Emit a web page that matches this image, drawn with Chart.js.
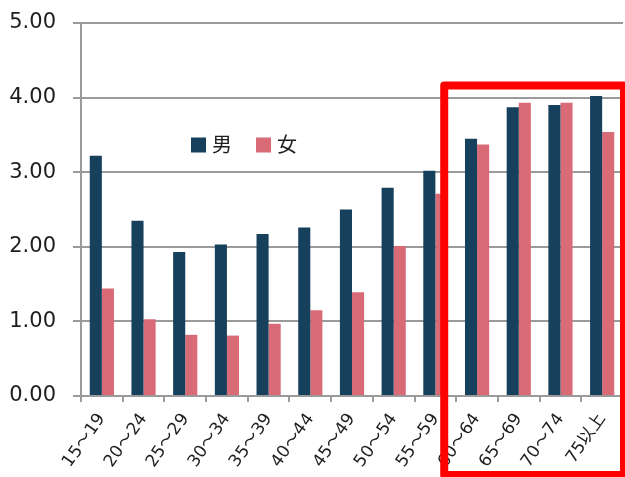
<!DOCTYPE html>
<html lang="ja">
<head>
<meta charset="utf-8">
<title>年齢階級別 男女比較</title>
<script src="https://cdn.jsdelivr.net/npm/chart.js@4.4.1/dist/chart.umd.min.js"></script>
<style>
  /* Latin digits from DejaVu Sans, wave dash and kanji from Noto Sans CJK JP */
  @font-face { font-family: 'AxisLabel'; src: local('DejaVu Sans'), local('DejaVuSans'); unicode-range: U+0000-024F; }
  @font-face { font-family: 'AxisLabel'; src: local('Noto Sans CJK JP'), local('Noto Sans CJK JP Regular'), local('NotoSansCJKjp-Regular'); unicode-range: U+3000-9FFF, U+FF00-FFEF; }
  html, body { margin: 0; padding: 0; background: #ffffff; }
  #wrap { width: 625px; height: 477px; }
</style>
</head>
<body>
<div id="wrap"><canvas id="chart" width="625" height="477"></canvas></div>
<script>
// Age groups along the category axis
const categories = ['15〜19', '20〜24', '25〜29', '30〜34', '35〜39', '40〜44', '45〜49',
                    '50〜54', '55〜59', '60〜64', '65〜69', '70〜74', '75以上'];
// Values per age group
const maleValues   = [3.22, 2.35, 1.93, 2.03, 2.17, 2.26, 2.50, 2.79, 3.02, 3.45, 3.87, 3.90, 4.02];
const femaleValues = [1.44, 1.03, 0.82, 0.81, 0.97, 1.15, 1.39, 2.01, 2.71, 3.37, 3.93, 3.93, 3.54];
const seriesLabels = ['男', '女'];
// Value axis range and step
const yMin = 0, yMax = 5, yStep = 1;
// First category inside the highlighted group
const highlightFrom = '60〜64';

const MALE_COLOR = '#17405C';
const FEMALE_COLOR = '#D96B77';
const GRID_COLOR = '#9a9a9a';
const TEXT_COLOR = '#1e1e1e';
const LABEL_FONT = 'AxisLabel, "DejaVu Sans", "Noto Sans CJK JP", sans-serif';

// Legend drawn inside the plot area
const inlineLegend = {
  id: 'inlineLegend',
  afterDatasetsDraw(chart) {
    const { ctx, chartArea } = chart;
    const box = 15;
    let x = chartArea.left + 110;
    const cy = chartArea.top + 122;
    ctx.save();
    ctx.font = '20px "Noto Sans CJK JP", "DejaVu Sans", sans-serif';
    ctx.textBaseline = 'middle';
    ctx.textAlign = 'left';
    chart.data.datasets.forEach((ds) => {
      ctx.fillStyle = ds.backgroundColor;
      ctx.fillRect(x, cy - box / 2, box, box);
      ctx.fillStyle = TEXT_COLOR;
      ctx.fillText(ds.label, x + box + 6, cy - 1);
      x += 65;
    });
    ctx.restore();
  }
};

// Red frame around the older age groups
const highlightFrame = {
  id: 'highlightFrame',
  afterDraw(chart) {
    const { ctx } = chart;
    const xs = chart.scales.x;
    const ys = chart.scales.y;
    const idx = categories.indexOf(highlightFrom);
    const boundary = (xs.getPixelForValue(idx - 1) + xs.getPixelForValue(idx)) / 2;
    const left = boundary - 12;
    const top = ys.getPixelForValue(4) - 12;
    const right = chart.width - 1;
    const bottom = chart.height - 2;
    ctx.save();
    ctx.strokeStyle = '#FF0000';
    ctx.lineWidth = 8;
    ctx.lineJoin = 'round';
    ctx.strokeRect(left, top, right - left, bottom - top);
    ctx.restore();
  }
};

function draw() {
  new Chart(document.getElementById('chart'), {
    type: 'bar',
    data: {
      labels: categories,
      datasets: [
        { label: seriesLabels[0], data: maleValues, backgroundColor: MALE_COLOR,
          categoryPercentage: 0.58, barPercentage: 1.0 },
        { label: seriesLabels[1], data: femaleValues, backgroundColor: FEMALE_COLOR,
          categoryPercentage: 0.58, barPercentage: 1.0 }
      ]
    },
    options: {
      responsive: false,
      animation: false,
      devicePixelRatio: 1,
      layout: { padding: { top: 23, right: 2, bottom: 0, left: 10 } },
      plugins: {
        legend: { display: false },
        tooltip: { enabled: false }
      },
      scales: {
        x: {
          offset: true,
          // fixed band for the rotated labels; they stay inside the plot width
          afterFit: (s) => { s.paddingLeft = 0; s.paddingRight = 0; s.height = 81; },
          grid: {
            display: true, drawOnChartArea: false, drawTicks: true,
            tickLength: 6, color: GRID_COLOR, lineWidth: 2, offset: true
          },
          border: { color: GRID_COLOR, width: 2 },
          ticks: {
            minRotation: 55, maxRotation: 55, autoSkip: false, padding: 8,
            color: TEXT_COLOR,
            font: { family: LABEL_FONT, size: 17 }
          }
        },
        y: {
          min: yMin, max: yMax,
          afterFit: (s) => { s.width = 71; s.paddingTop = 0; s.paddingBottom = 0; },
          grid: { color: GRID_COLOR, lineWidth: 2, tickLength: 8, drawTicks: true },
          border: { color: GRID_COLOR, width: 2 },
          ticks: {
            stepSize: yStep, padding: 17, color: TEXT_COLOR,
            font: { family: '"DejaVu Sans", sans-serif', size: 21 },
            callback: (v) => Number(v).toFixed(2)
          }
        }
      }
    },
    plugins: [inlineLegend, highlightFrame]
  });
}

document.fonts.load('17px AxisLabel', '15〜19以上').then(draw, draw);
</script>
</body>
</html>
